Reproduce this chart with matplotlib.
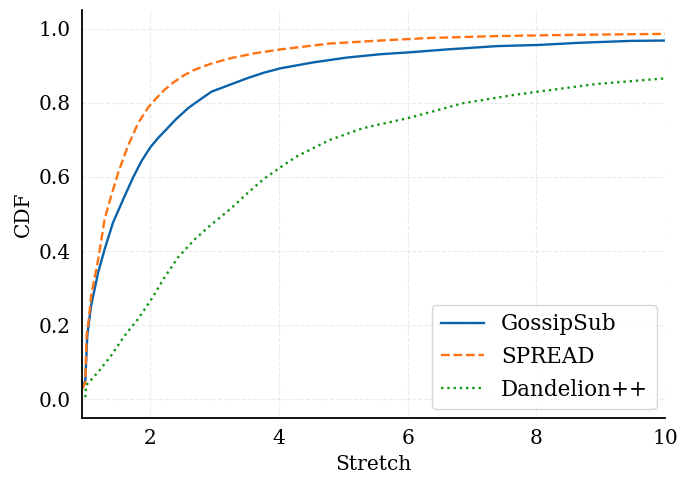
import matplotlib
matplotlib.use('Agg')
import matplotlib.pyplot as plt

# Values (stretch, CDF)
gossip_x = [0.95, 0.99, 1.02, 1.08, 1.19, 1.29, 1.42, 1.60, 1.73, 1.86, 2.00, 2.12, 2.22, 2.40, 2.59, 2.75, 2.95,
            3.24, 3.50, 3.76, 4.02, 4.53, 5.05, 5.57, 6.01, 6.61, 7.39, 8.02, 8.68, 9.46, 10.0]
gossip_y = [0.033, 0.051, 0.172, 0.253, 0.343, 0.405, 0.477, 0.548, 0.598, 0.642, 0.680, 0.705, 0.723, 0.756, 0.786, 0.806, 0.830,
            0.849, 0.866, 0.881, 0.893, 0.909, 0.922, 0.931, 0.936, 0.944, 0.953, 0.956, 0.962, 0.967, 0.968]

spread_x = [0.94, 0.99, 1.01, 1.05, 1.08, 1.19, 1.29, 1.39, 1.50, 1.65, 1.81, 1.96, 2.08, 2.22, 2.35, 2.53, 2.70, 2.95,
            3.24, 3.60, 4.02, 4.79, 5.57, 6.35, 7.39, 8.42, 10.0]
spread_y = [0.029, 0.045, 0.172, 0.225, 0.280, 0.378, 0.486, 0.548, 0.611, 0.683, 0.745, 0.786, 0.810, 0.835, 0.854, 0.875, 0.890, 0.906,
            0.920, 0.933, 0.944, 0.960, 0.968, 0.975, 0.980, 0.983, 0.986]

dand_x = [0.99, 1.0, 1.19, 1.39, 1.60, 1.81, 2.02, 2.22, 2.43, 2.69, 2.95, 3.24, 3.50, 3.76, 4.02, 4.28,
          4.79, 5.31, 6.01, 6.86, 7.64, 8.02, 8.94, 10.0]
dand_y = [0.006, 0.038, 0.074, 0.118, 0.172, 0.217, 0.271, 0.329, 0.383, 0.432, 0.472, 0.513, 0.555, 0.594, 0.626, 0.656,
          0.700, 0.732, 0.759, 0.799, 0.821, 0.830, 0.851, 0.866]

plt.rcParams['font.family'] = 'DejaVu Serif'

fig = plt.figure(figsize=(6.9, 4.87), dpi=100)
ax = fig.add_axes([0.119, 0.1417, 0.845, 0.8375])

ax.plot(gossip_x, gossip_y, '-', color='#0a62aa', linewidth=1.7, label='GossipSub')
ax.plot(spread_x, spread_y, '--', color='#ff7313', linewidth=1.7, label='SPREAD')
ax.plot(dand_x, dand_y, ':', color='#149614', linewidth=1.7, label='Dandelion++')

ax.set_xlim(0.94, 10)
ax.set_ylim(-0.05, 1.05)
ax.set_xticks([2, 4, 6, 8, 10])
ax.set_yticks([0.0, 0.2, 0.4, 0.6, 0.8, 1.0])
ax.tick_params(length=0, labelsize=14.5, pad=8)
ax.set_xlabel('Stretch', fontsize=14.5, labelpad=5)
ax.set_ylabel('CDF', fontsize=14.5)
ax.grid(True, linestyle='--', color='#dddddd', alpha=0.6, linewidth=0.8)
ax.spines['top'].set_visible(False)
ax.spines['right'].set_visible(False)
ax.spines['left'].set_linewidth(1.3)
ax.spines['bottom'].set_linewidth(1.3)

leg = ax.legend(loc='lower right', fontsize=15.5, borderaxespad=0.4)
leg.get_frame().set_edgecolor('#cccccc')

fig.savefig('out.png', dpi=100)
